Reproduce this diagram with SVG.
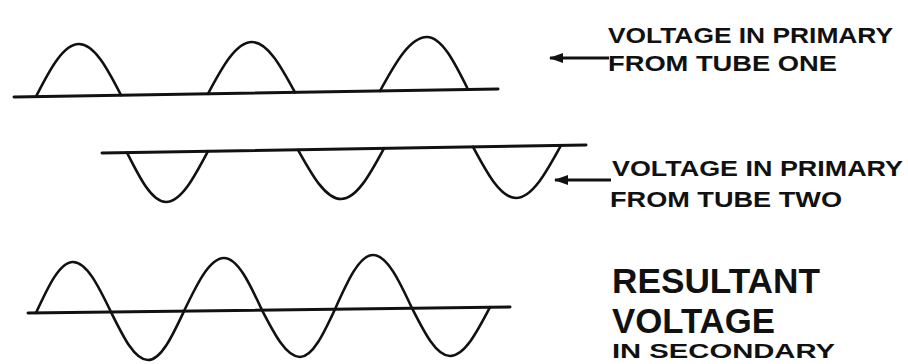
<svg xmlns="http://www.w3.org/2000/svg" width="908" height="364" viewBox="0 0 908 364">
<style>
.axis{fill:none;stroke:#111;stroke-width:3;stroke-linecap:round}
.wave{fill:none;stroke:#111;stroke-width:2.6;stroke-linecap:round;stroke-linejoin:round}
.arrow{fill:none;stroke:#111;stroke-width:3}
.lbl{font-family:"Liberation Sans","DejaVu Sans",sans-serif;font-weight:bold;fill:#111}
</style>
<defs>
<marker id="ah" viewBox="0 0 14 10" refX="13" refY="5" markerUnits="userSpaceOnUse" markerWidth="14" markerHeight="10" orient="auto-start-reverse">
<path d="M0,0 L14,5 L0,10 Z" fill="#111"/>
</marker>
</defs>
<rect width="908" height="364" fill="#fff"/>
<g id="wave-tube-one">
<line class="axis" x1="14" y1="97" x2="498" y2="89"/>
<path class="wave" d="M36,96.6 C50,68.9 63.5,44 79,44 C94.2,44 107.3,68.4 121,95.2"/>
<path class="wave" d="M208,93.8 C222.3,66.9 236.1,42 252,42 C267.5,42 281,66.4 295,92.4"/>
<path class="wave" d="M380,91 C395.3,62.8 410,37 427,37 C441.8,37 454.6,62.4 468,89.5"/>
</g>
<g id="wave-tube-two">
<line class="axis" x1="102" y1="153" x2="586" y2="145"/>
<path class="wave" d="M127,152.6 C139.7,177.9 151.9,202 166,202 C181.2,202 194.3,177.2 208,151.2"/>
<path class="wave" d="M298,149.8 C312,175 325.5,199 341,199 C356.5,199 370,174.3 384,148.3"/>
<path class="wave" d="M473,146.9 C487,173.1 500.5,198 516,198 C532.2,198 546.3,172.3 561,145.4"/>
</g>
<g id="wave-resultant">
<line class="axis" x1="28" y1="313" x2="510" y2="307"/>
<path class="wave" d="M36,312.9 C48.1,286.8 59.6,262 73,262 C86.7,262 98.6,286.4 111,312 C123.1,336.6 134.6,360 148,360 C161,360 172.3,336.2 184,311.1 C197,283.9 209.6,258 224,258 C237.7,258 249.6,283.4 262,310.1 C274.4,334.1 286.3,357 300,357 C312.6,357 323.6,333.7 335,309.2 C347.4,281.4 359.3,255 373,255 C387.1,255 399.3,280.9 412,308.2 C424.4,332.7 436.3,356 450,356 C464.4,356 477,332.2 490,307.2"/>
</g>
<g id="connectors">
<line class="arrow" x1="550" y1="58" x2="609" y2="58" marker-start="url(#ah)"/>
<line class="arrow" x1="555" y1="180" x2="611" y2="180" marker-start="url(#ah)"/>
</g>
<g id="label-tube-one">
<text class="lbl" x="608" y="43" font-size="22" textLength="285" lengthAdjust="spacingAndGlyphs">VOLTAGE IN PRIMARY</text>
<text class="lbl" x="608" y="71" font-size="22" textLength="229" lengthAdjust="spacingAndGlyphs">FROM TUBE ONE</text>
</g>
<g id="label-tube-two">
<text class="lbl" x="612" y="176" font-size="22" textLength="291" lengthAdjust="spacingAndGlyphs">VOLTAGE IN PRIMARY</text>
<text class="lbl" x="610" y="207" font-size="22" textLength="232" lengthAdjust="spacingAndGlyphs">FROM TUBE TWO</text>
</g>
<g id="label-resultant">
<text class="lbl" x="612" y="293" font-size="35" textLength="208" lengthAdjust="spacingAndGlyphs">RESULTANT</text>
<text class="lbl" x="612" y="333" font-size="35" textLength="163" lengthAdjust="spacingAndGlyphs">VOLTAGE</text>
<text class="lbl" x="612" y="358" font-size="21" textLength="223" lengthAdjust="spacingAndGlyphs">IN SECONDARY</text>
</g>
</svg>
